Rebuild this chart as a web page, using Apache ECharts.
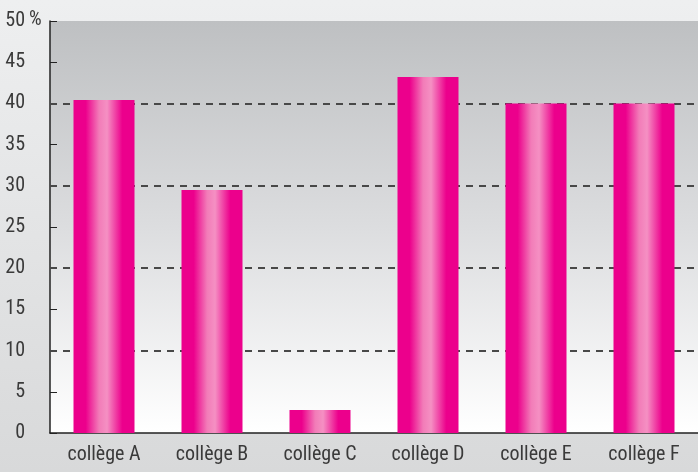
<!DOCTYPE html>
<html><head><meta charset="utf-8">
<script src="https://cdn.jsdelivr.net/npm/echarts@6/dist/echarts.min.js"></script>
<style>html,body{margin:0;padding:0;}#c{width:698px;height:472px;}</style>
</head><body><div id="c"></div>
<script>
var categories = ['collège A','collège B','collège C','collège D','collège E','collège F'];
var values = [40.4, 29.5, 2.8, 43.2, 40, 40];
var dashedLevels = [10, 20, 30, 40];
var unitLabel = '%';

var chart = echarts.init(document.getElementById('c'));
var font = '"Liberation Sans Narrow", "Roboto Condensed", "DejaVu Sans Condensed", sans-serif';
var barColor = new echarts.graphic.LinearGradient(0,0,1,0,[
  {offset:0,color:'#ec008c'},{offset:0.2,color:'#ec008c'},
  {offset:0.42,color:'#f27cb8'},{offset:0.55,color:'#f590c3'},
  {offset:0.8,color:'#ec008c'},{offset:1,color:'#ec008c'}]);
chart.setOption({
  backgroundColor: new echarts.graphic.LinearGradient(0,0,0,1,[
    {offset:0,color:'#eeeff0'},{offset:1,color:'#d8d9da'}]),
  grid:{left:50,right:0,top:21,bottom:39,show:true,borderWidth:0,
    backgroundColor:new echarts.graphic.LinearGradient(0,0,0,1,[
      {offset:0,color:'#bec0c2'},{offset:0.5,color:'#dcdddf'},{offset:1,color:'#ffffff'}])},
  xAxis:{type:'category',data:categories,
    axisLine:{lineStyle:{color:'#222',width:1.5}},
    axisTick:{inside:true,length:6,lineStyle:{color:'#555'}},
    axisLabel:{color:'#3a3a3a',fontSize:20,fontFamily:font,margin:12}},
  yAxis:{type:'value',min:0,max:50,interval:5,
    axisLine:{show:true,lineStyle:{color:'#222',width:1.5}},
    axisTick:{show:true,inside:true,length:7,lineStyle:{color:'#222'}},
    axisLabel:{color:'#3a3a3a',fontSize:20,fontFamily:font,margin:25},
    splitLine:{show:false}},
  graphic:[{type:'text',left:29,top:10,z:10,
    style:{text:unitLabel,fontSize:20,fontFamily:font,fill:'#3a3a3a'}}],
  series:[{type:'bar',data:values,barWidth:61,itemStyle:{color:barColor},
    markLine:{silent:true,symbol:'none',label:{show:false},z:1,
      lineStyle:{color:'#484848',type:[7,6],width:1.8},
      data:dashedLevels.map(function(v){return {yAxis:v};})},
    z:2}]
});
</script></body></html>
